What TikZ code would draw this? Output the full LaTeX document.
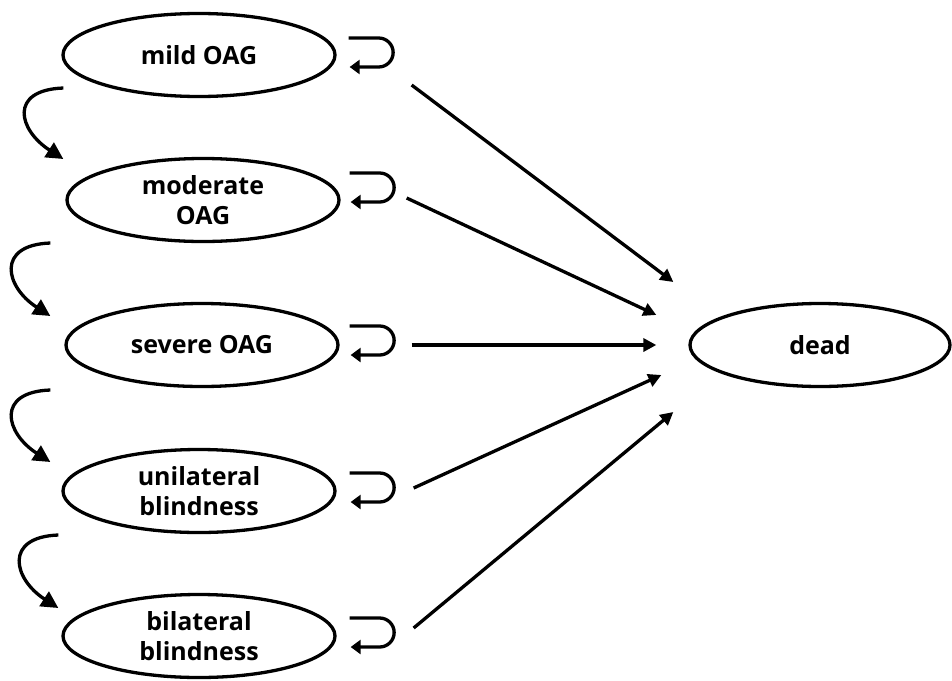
\documentclass[tikz,border=0pt]{standalone}
\usepackage{fontspec}
\setmainfont{Open Sans}
\usetikzlibrary{shapes.geometric}
\usetikzlibrary{arrows.meta}
\usetikzlibrary{calc}

\tikzset{
  state/.style={ellipse, draw, line width=3.3pt, minimum width=272pt, minimum height=83pt,
    inner sep=0pt, align=center, font=\bfseries\fontsize{25}{30}\selectfont},
  flow/.style={line width=3.3pt, -{Triangle[length=13pt,width=13pt]}},
  stay/.style={line width=3.3pt, -{Triangle[length=10pt,width=14pt]}},
  worse/.style={line width=3.3pt, -{Triangle[length=17pt,width=17pt]}}
}

\begin{document}
\begin{tikzpicture}[x=1pt,y=-1pt]
\useasboundingbox (0,0) rectangle (952,680);

\node[state] (mild) at (199,55) {mild OAG};
\node[state] (moderate) at (203,200) {moderate\\OAG};
\node[state] (severe) at (202,345) {severe OAG};
\node[state] (unilateral) at (199,491) {unilateral\\blindness};
\node[state] (bilateral) at (199,636) {bilateral\\blindness};
\node[state, minimum width=260pt] (dead) at (820,345) {dead};


\draw[stay] ($(mild.east)+(12,-17)$) -- ++(30,0) arc (-90:90:14.5) -- ++(-29,0);
\draw[stay] ($(moderate.east)+(9,-27)$) -- ++(30,0) arc (-90:90:14.5) -- ++(-29,0);
\draw[stay] ($(severe.east)+(10,-19)$) -- ++(30,0) arc (-90:90:14.5) -- ++(-29,0);
\draw[stay] ($(unilateral.east)+(13,-18)$) -- ++(30,0) arc (-90:90:14.5) -- ++(-29,0);
\draw[stay] ($(bilateral.east)+(13,-18)$) -- ++(30,0) arc (-90:90:14.5) -- ++(-29,0);


\draw[worse] ($(mild.west)+(2,33)$) .. controls +(-55,2) and +(-45,-29) .. ($(moderate.west)+(-2,-41)$);
\draw[worse] ($(moderate.west)+(-15,43)$) .. controls +(-55,2) and +(-45,-29) .. ($(severe.west)+(-14,-29)$);
\draw[worse] ($(severe.west)+(-14,45)$) .. controls +(-55,2) and +(-45,-29) .. ($(unilateral.west)+(-11,-29)$);
\draw[worse] ($(unilateral.west)+(-3,44)$) .. controls +(-55,2) and +(-45,-29) .. ($(bilateral.west)+(-3,-28)$);


\draw[flow] ($(mild.east)+(75,30)$) -- ($(dead.west)+(-15,-63)$);
\draw[flow] ($(moderate.east)+(66,-2)$) -- ($(dead.west)+(-32,-30)$);
\draw[flow] ($(severe.east)+(72,0)$) -- ($(dead.west)+(-32,0)$);
\draw[flow] ($(unilateral.east)+(77,-3)$) -- ($(dead.west)+(-27,30)$);
\draw[flow] ($(bilateral.east)+(77,-8)$) -- ($(dead.west)+(-15,67)$);

\end{tikzpicture}
\end{document}
